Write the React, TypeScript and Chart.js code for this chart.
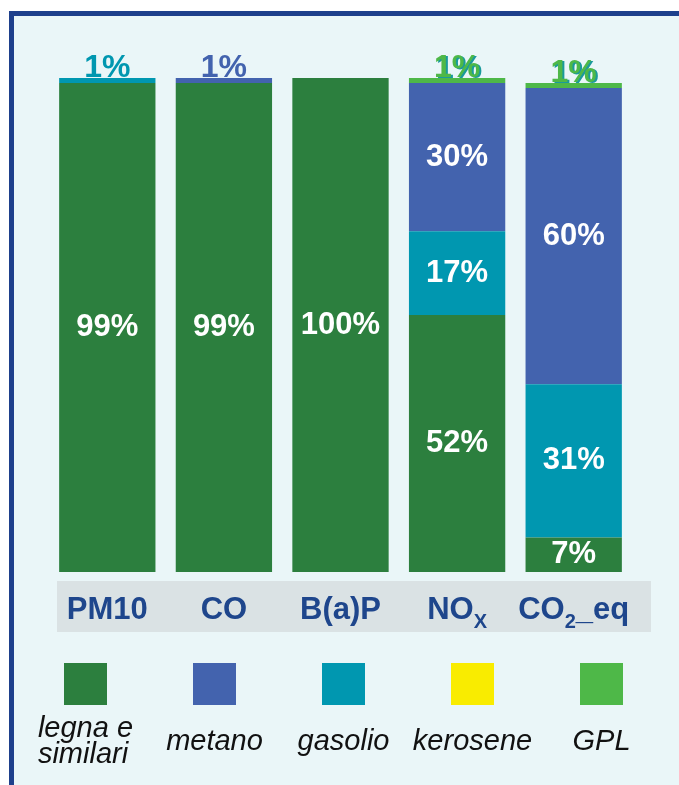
import React, { useEffect, useRef } from 'react';
import { Chart, registerables } from 'chart.js';

Chart.register(...registerables);

// ---- data ----
const categories = ['PM10', 'CO', 'B(a)P', 'NOx', 'CO2_eq'];
const categoryLabelParts = [
  [{ text: 'PM10' }],
  [{ text: 'CO' }],
  [{ text: 'B(a)P' }],
  [{ text: 'NO' }, { text: 'X', sub: true }],
  [{ text: 'CO' }, { text: '2', sub: true }, { text: '_eq' }],
];

const legnaValues = [99, 99, 100, 52, 7];
const gasolioValues = [1, 0, 0, 17, 31];
const metanoValues = [0, 1, 0, 30, 60];
const keroseneValues = [0, 0, 0, 0, 0];
const gplValues = [0, 0, 0, 1, 1];

// stacking order (bottom to top)
const seriesNames = ['legna e similari', 'gasolio', 'metano', 'kerosene', 'GPL'];
const seriesValues = [legnaValues, gasolioValues, metanoValues, keroseneValues, gplValues];
const seriesColors = ['#2c7f3e', '#0097b0', '#4363ae', '#f9ec00', '#4eb848'];
const seriesShadow = [null, null, null, null, '#1a9a9c'];

// legend order
const legendNames = ['legna e similari', 'metano', 'gasolio', 'kerosene', 'GPL'];
const legendTexts = ['legna e\nsimilari', 'metano', 'gasolio', 'kerosene', 'GPL'];

const FONT = '"Liberation Sans", Arial, Helvetica, sans-serif';

const bandPlugin = {
  id: 'band',
  beforeDatasetsDraw(chart: any) {
    const { ctx, chartArea } = chart;
    ctx.save();
    ctx.fillStyle = '#dae2e4';
    ctx.fillRect(chartArea.left + 8, chartArea.bottom + 9, chartArea.right - chartArea.left + 11, 51);
    ctx.restore();
  },
  afterDraw(chart: any) {
    const { ctx, chartArea } = chart;
    const xScale = chart.scales.x;
    const baseY = chartArea.bottom + 47;
    ctx.save();
    ctx.fillStyle = '#1e468c';
    ctx.textBaseline = 'alphabetic';
    ctx.textAlign = 'left';
    categoryLabelParts.forEach((parts: any[], i: number) => {
      const cx = xScale.getPixelForValue(i);
      let total = 0;
      const widths = parts.map((p) => {
        ctx.font = p.sub ? `bold 20px ${FONT}` : `bold 31px ${FONT}`;
        const w = ctx.measureText(p.text).width;
        total += w;
        return w;
      });
      let x = cx - total / 2;
      parts.forEach((p, j) => {
        ctx.font = p.sub ? `bold 20px ${FONT}` : `bold 31px ${FONT}`;
        ctx.fillText(p.text, x, p.sub ? baseY + 9 : baseY);
        x += widths[j];
      });
    });
    ctx.restore();
  },
};

const labelPlugin = {
  id: 'segLabels',
  afterDatasetsDraw(chart: any) {
    const ctx = chart.ctx;
    chart.data.datasets.forEach((ds: any, di: number) => {
      const meta = chart.getDatasetMeta(di);
      meta.data.forEach((el: any, i: number) => {
        const v = ds.data[i];
        if (!v) return;
        const { x, y, base } = el.getProps(['x', 'y', 'base'], true);
        const txt = v + '%';
        ctx.save();
        ctx.textAlign = 'center';
        if (v >= 5) {
          ctx.font = `bold 31px ${FONT}`;
          ctx.fillStyle = '#ffffff';
          ctx.textBaseline = 'middle';
          ctx.fillText(txt, x, (y + base) / 2);
        } else {
          ctx.font = `bold 32px ${FONT}`;
          ctx.textBaseline = 'alphabetic';
          const shadow = seriesShadow[di];
          if (shadow) {
            ctx.fillStyle = shadow;
            ctx.fillText(txt, x + 2, y + 0);
          }
          ctx.fillStyle = ds.backgroundColor;
          ctx.fillText(txt, x, y - 1);
        }
        ctx.restore();
      });
    });
  },
};

function ChartCanvas() {
  const ref = useRef<HTMLCanvasElement>(null);
  useEffect(() => {
    if (!ref.current) return;
    const chart = new Chart(ref.current, {
      type: 'bar',
      data: {
        labels: categories,
        datasets: seriesNames.map((name, k) => ({
          label: name,
          data: seriesValues[k],
          backgroundColor: seriesColors[k],
          borderWidth: 0,
          barPercentage: 1,
          categoryPercentage: 0.826,
        })),
      },
      options: {
        responsive: false,
        animation: false,
        layout: { padding: { left: 49, right: 47, top: 78, bottom: 213 } },
        plugins: { legend: { display: false }, tooltip: { enabled: false } },
        scales: {
          x: { stacked: true, display: false },
          y: { stacked: true, display: false, min: 0, max: 100 },
        },
      },
      plugins: [bandPlugin, labelPlugin],
    } as any);
    return () => chart.destroy();
  }, []);
  return (
    <canvas
      ref={ref}
      width={679}
      height={785}
      style={{ position: 'absolute', left: 0, top: 0, width: 679, height: 785 }}
    />
  );
}

export default function App() {
  return (
    <div style={{ position: 'absolute', left: 0, top: 0, width: 679, height: 785, overflow: 'hidden', background: '#ffffff' }}>
      <div
        style={{
          position: 'absolute',
          left: 9,
          top: 11,
          width: 700,
          height: 800,
          boxSizing: 'border-box',
          borderLeft: '5px solid #1e408c',
          borderTop: '5px solid #1e408c',
          background: '#eaf6f8',
        }}
      />
      <ChartCanvas />
      <div style={{ position: 'absolute', left: 21, top: 663, display: 'flex' }}>
        {legendNames.map((name, k) => {
          const idx = seriesNames.indexOf(name);
          return (
            <div key={name} style={{ width: 129, display: 'flex', flexDirection: 'column', alignItems: 'center' }}>
              <div style={{ width: 43, height: 42, background: seriesColors[idx] }} />
              <div
                style={{
                  marginTop: 9,
                  height: 52,
                  display: 'flex',
                  alignItems: 'center',
                  justifyContent: 'center',
                  fontFamily: FONT,
                  fontStyle: 'italic',
                  fontSize: 29,
                  lineHeight: '26px',
                  color: '#111111',
                  whiteSpace: 'pre-line',
                  textAlign: 'left',
                }}
              >
                {legendTexts[k]}
              </div>
            </div>
          );
        })}
      </div>
    </div>
  );
}
